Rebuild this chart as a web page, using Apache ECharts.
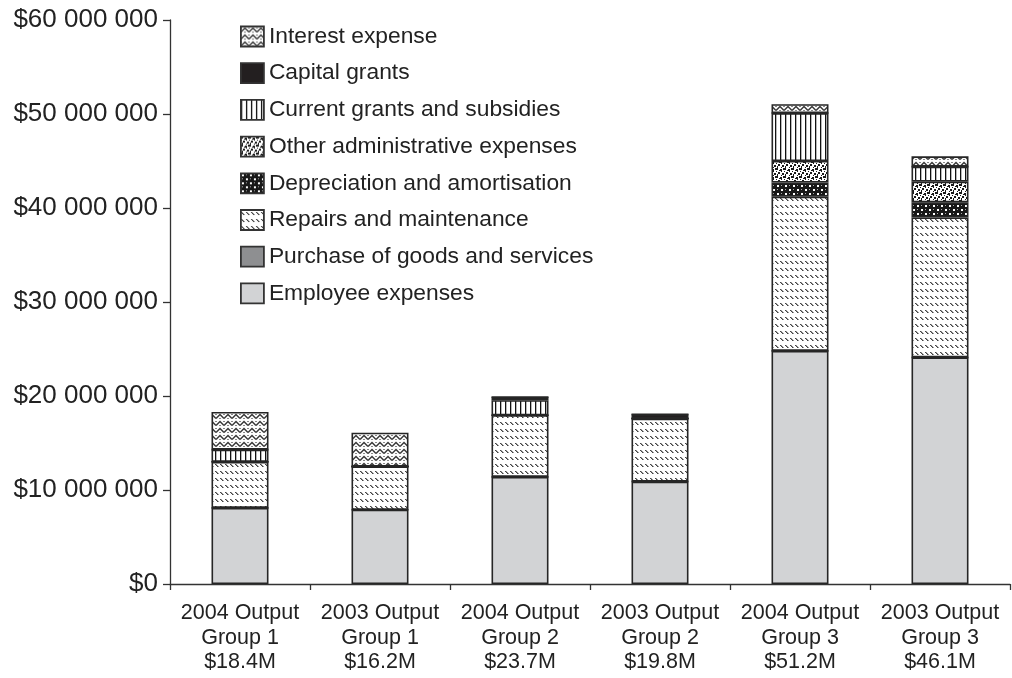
<!DOCTYPE html>
<html>
<head>
<meta charset="utf-8">
<title>Expenses by output group</title>
<script src="https://cdn.jsdelivr.net/npm/echarts@6/dist/echarts.min.js"></script>
<style>
  html, body { margin: 0; padding: 0; background: #fff; }
  #chart { width: 1012px; height: 678px; }
</style>
</head>
<body>
<div id="chart"></div>
<script>
// Output groups (category labels, three lines each)
const categories = [
  '2004 Output\nGroup 1\n$18.4M',
  '2003 Output\nGroup 1\n$16.2M',
  '2004 Output\nGroup 2\n$23.7M',
  '2003 Output\nGroup 2\n$19.8M',
  '2004 Output\nGroup 3\n$51.2M',
  '2003 Output\nGroup 3\n$46.1M'
];

// Expense components, in dollars, bottom of the stack first
const employeeExpenses      = [8100000, 7900000, 11400000, 10900000, 24800000, 24100000];
const purchaseGoodsServices = [0, 0, 0, 0, 0, 0];
const repairsMaintenance    = [4900000, 4600000, 6550000, 6700000, 16400000, 14900000];
const depreciationAmort     = [0, 0, 0, 0, 1500000, 1600000];
const otherAdministrative   = [0, 0, 0, 0, 2300000, 2200000];
const currentGrants         = [1300000, 0, 1600000, 0, 5100000, 1600000];
const capitalGrants         = [0, 0, 350000, 450000, 0, 0];
const interestExpense       = [4000000, 3600000, 0, 0, 950000, 1100000];

// Value-axis tick labels ($0 ... $60 000 000)
const yTickLabels = ['$0', '$10 000 000', '$20 000 000', '$30 000 000',
                     '$40 000 000', '$50 000 000', '$60 000 000'];

// Small repeating fills used to tell the components apart
function tile(w, h, bg, draw) {
  const c = document.createElement('canvas');
  c.width = w; c.height = h;
  const g = c.getContext('2d');
  g.fillStyle = bg;
  g.fillRect(0, 0, w, h);
  draw(g);
  return { image: c, repeat: 'repeat' };
}
const fillRepairs = tile(5, 7, '#ffffff', g => {
  g.fillStyle = '#444';
  g.fillRect(0, 2, 1, 1); g.fillRect(1, 3, 1, 1); g.fillRect(2, 4, 1, 1);
  g.fillStyle = '#999';
  g.fillRect(1, 2, 1, 1); g.fillRect(2, 3, 1, 1); g.fillRect(3, 4, 1, 1);
});
const fillInterest = tile(8, 7, '#ffffff', g => {
  g.strokeStyle = '#3a3a3a'; g.lineWidth = 1.5;
  g.beginPath(); g.moveTo(0, 5.5); g.lineTo(4, 1.5); g.lineTo(8, 5.5); g.stroke();
  g.fillStyle = '#888'; g.fillRect(3, 5, 2, 1); g.fillRect(0, 1, 1, 1); g.fillRect(7, 1, 1, 1);
});
const fillCurrentGrants = tile(5, 4, '#ffffff', g => {
  g.fillStyle = '#111'; g.fillRect(0, 0, 1.3, 4);
});
const fillOtherAdmin = tile(8, 8, '#ffffff', g => {
  g.fillStyle = '#1a1a1a';
  g.fillRect(0, 0, 2, 2); g.fillRect(4, 1, 2, 2); g.fillRect(2, 4, 2, 2);
  g.fillRect(6, 5, 2, 2); g.fillRect(1, 6, 1, 2); g.fillRect(5, 3, 1, 1);
  g.fillRect(7, 0, 1, 2); g.fillRect(3, 2, 1, 1); g.fillRect(0, 3, 1, 1);
  g.fillRect(5, 7, 1, 1);
});
const fillDepreciation = tile(8, 8, '#181818', g => {
  g.fillStyle = '#ffffff';
  g.fillRect(1, 1, 2, 2); g.fillRect(5, 5, 2, 2);
  g.fillStyle = '#aaaaaa';
  g.fillRect(5, 1, 1, 1); g.fillRect(1, 5, 1, 1);
});

const FONT = "'Liberation Sans', Arial, Helvetica, sans-serif";

const components = [
  { name: 'Employee expenses',                data: employeeExpenses,      color: '#d2d3d5' },
  { name: 'Purchase of goods and services',   data: purchaseGoodsServices, color: '#8e8f91' },
  { name: 'Repairs and maintenance',          data: repairsMaintenance,    color: fillRepairs },
  { name: 'Depreciation and amortisation',    data: depreciationAmort,     color: fillDepreciation },
  { name: 'Other administrative expenses',    data: otherAdministrative,   color: fillOtherAdmin },
  { name: 'Current grants and subsidies',     data: currentGrants,         color: fillCurrentGrants },
  { name: 'Capital grants',                   data: capitalGrants,         color: '#231f20' },
  { name: 'Interest expense',                 data: interestExpense,       color: fillInterest }
];

const chart = echarts.init(document.getElementById('chart'), null, { renderer: 'canvas' });

chart.setOption({
  animation: false,
  backgroundColor: '#ffffff',
  textStyle: { fontFamily: FONT, color: '#222' },
  grid: { left: 170, right: 2, top: 20, bottom: 94, containLabel: false },
  legend: {
    orient: 'vertical',
    left: 240,
    top: 25,
    padding: 0,
    itemWidth: 23,
    itemHeight: 20,
    itemGap: 13.7,
    icon: 'rect',
    selectedMode: false,
    itemStyle: { borderWidth: 1.8, borderColor: '#333' },
    data: components.map(c => c.name).reverse(),
    textStyle: { fontFamily: FONT, fontSize: 22.8, color: '#222' }
  },
  xAxis: {
    type: 'category',
    data: categories,
    axisLine: { lineStyle: { color: '#333', width: 1.3 } },
    axisTick: { show: true, interval: 0, length: 6, lineStyle: { color: '#333', width: 1.3 } },
    axisLabel: {
      interval: 0,
      margin: 17,
      fontFamily: FONT,
      fontSize: 21.5,
      lineHeight: 24.5,
      color: '#222'
    }
  },
  yAxis: {
    type: 'value',
    min: 0,
    max: 60000000,
    interval: 10000000,
    splitLine: { show: false },
    axisLine: { show: true, lineStyle: { color: '#333', width: 1.3 } },
    axisTick: { show: true, length: 7, lineStyle: { color: '#333', width: 1.3 } },
    axisLabel: {
      margin: 12,
      fontFamily: FONT,
      fontSize: 26,
      color: '#222',
      padding: [4, 0, 0, 0],
      formatter: v => yTickLabels[Math.round(v / 10000000)]
    }
  },
  series: components.map(c => ({
    name: c.name,
    type: 'bar',
    stack: 'total',
    barWidth: 57,
    data: c.data,
    itemStyle: { color: c.color, borderColor: '#262626', borderWidth: 1.6 },
    emphasis: { disabled: true }
  }))
});
</script>
</body>
</html>
